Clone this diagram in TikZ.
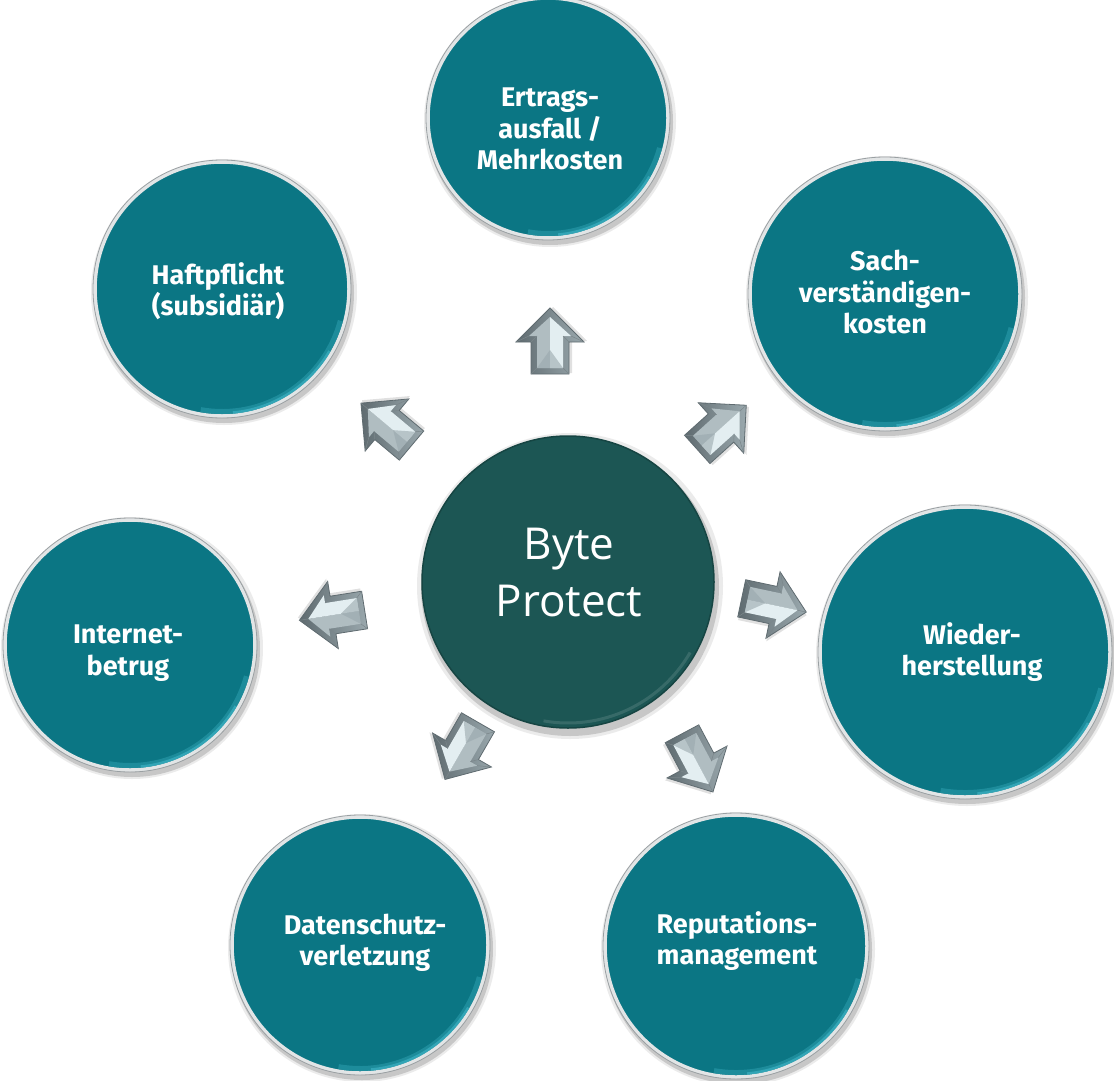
\documentclass[tikz,border=0pt]{standalone}
\usepackage{fontspec}
\setmainfont{Fira Sans}
\newfontfamily\centerfont{Open Sans}
\definecolor{teal1}{HTML}{0B7684}
\definecolor{tealdark}{HTML}{1C5654}
\definecolor{rimlight}{HTML}{E2E5E6}
\definecolor{rimdark}{HTML}{9AA0A3}
\definecolor{hilite}{HTML}{41B6C8}
\definecolor{arrdark}{HTML}{5F6B70}
\definecolor{arrmid}{HTML}{9AA8AD}
\definecolor{arrlight}{HTML}{E3EEF1}
\tikzset{
  bubble/.style={circle, fill=teal1, draw=rimlight, line width=3.5pt, minimum size=#1, inner sep=0pt},
  hubstyle/.style={circle, fill=tealdark, draw=tealdark!80!black, line width=1.5pt, minimum size=#1, inner sep=0pt},
  lbl/.style={text=white, font=\bfseries\fontsize{27}{31.5}\selectfont, align=center},
  hublbl/.style={text=white, font=\centerfont\fontsize{44}{57}\selectfont, align=center},
  shadowfill/.style={fill=black, opacity=#1},
}
\newcommand\mybubble[4]{%
  \fill[shadowfill=0.08] (#2+2,#3+3) circle[radius=#4pt+6pt];
  \fill[shadowfill=0.15] (#2+2,#3+4) circle[radius=#4pt+3pt];
  \node[bubble=2*#4] (#1) at (#2,#3) {};
  \draw[rimdark, line width=0.8pt] (#1.center) circle[radius=#4pt+2pt];
  \draw[hilite, line width=5pt, opacity=0.35] ([shift={(-100:#4pt-4.5pt)}]#1.center) arc[start angle=-100, end angle=-15, radius=#4pt-4.5pt];
  \draw[hilite, line width=2.5pt, opacity=0.6] ([shift={(-85:#4pt-3pt)}]#1.center) arc[start angle=-85, end angle=-30, radius=#4pt-3pt];
}
\newcommand\myarrow[4]{%
  \coordinate (#1) at (#2,#3);
  \begin{scope}[shift={(#1)}, rotate=#4]
    \fill[black, opacity=0.12] (-31,-16) -- (1,-16) -- (1,-31) -- (35,3) -- (1,37) -- (1,22) -- (-31,22) -- cycle;
    \path[draw=arrdark, line width=0.8pt, left color=arrdark, right color=arrmid]
      (-32,-19) -- (0,-19) -- (0,-34) -- (34,0) -- (0,34) -- (0,19) -- (-32,19) -- cycle;
    \fill[arrmid!70!arrlight] (-26,0) -- (-26,-13) -- (6,-13) -- (6,-21) -- (25,0) -- cycle;
    \fill[arrlight] (-26,0) -- (-26,13) -- (6,13) -- (6,21) -- (25,0) -- cycle;
    \fill[arrmid, opacity=0.6] (-26,-13) -- (-26,13) -- (-8,0) -- cycle;
    \draw[arrmid!80!black, line width=0.5pt]
      (-32,-19) -- (-26,-13) (0,-19) -- (6,-13) (0,-34) -- (6,-21) (34,0) -- (25,0)
      (0,34) -- (6,21) (0,19) -- (6,13) (-32,19) -- (-26,13);
  \end{scope}
}
\begin{document}
\begin{tikzpicture}[x=1pt, y=-1pt]
  \useasboundingbox (0,0) rectangle (1114,1081);
  \fill[white] (0,0) rectangle (1114,1081);

  \mybubble{ertrag}{548}{118}{120}
  \mybubble{haft}{222}{289}{127}
  \mybubble{sach}{885}{294}{135}
  \mybubble{inet}{130}{645}{125}
  \mybubble{wieder}{965}{652}{145}
  \mybubble{daten}{360}{945}{128}
  \mybubble{repu}{736}{946}{131}

  % hub
  \fill[shadowfill=0.08] (570,586) circle[radius=153pt];
  \fill[shadowfill=0.15] (570,587) circle[radius=149pt];
  \node[hubstyle=292] (hub) at (568,582) {};
  \draw[white, opacity=0.12, line width=3pt] ([shift={(-100:141pt)}]hub.center) arc[start angle=-100, end angle=-30, radius=141pt];

  \node[lbl] (t1) at (550,129) {Ertrags-\\ausfall /\\Mehrkosten};
  \node[lbl] (t2) at (218,291) {Haftpflicht\\(subsidiär)};
  \node[lbl] (t3) at (885,292) {Sach-\\verständigen-\\kosten};
  \node[lbl] (t4) at (128,653) {Internet-\\betrug};
  \node[lbl] (t5) at (972,652) {Wieder-\\herstellung};
  \node[lbl] (t6) at (365,943) {Datenschutz-\\verletzung};
  \node[lbl] (t7) at (737,941) {Reputations-\\management};
  \node[hublbl] (th) at (569,573) {Byte\\Protect};

  \myarrow{a1}{550}{342}{90}
  \myarrow{a2}{721}{428}{42}
  \myarrow{a3}{773}{605}{-12}
  \myarrow{a4}{697}{762}{-62}
  \myarrow{a5}{462}{750}{-120}
  \myarrow{a6}{333}{615}{-171}
  \myarrow{a7}{387}{425}{140}
\end{tikzpicture}
\end{document}
